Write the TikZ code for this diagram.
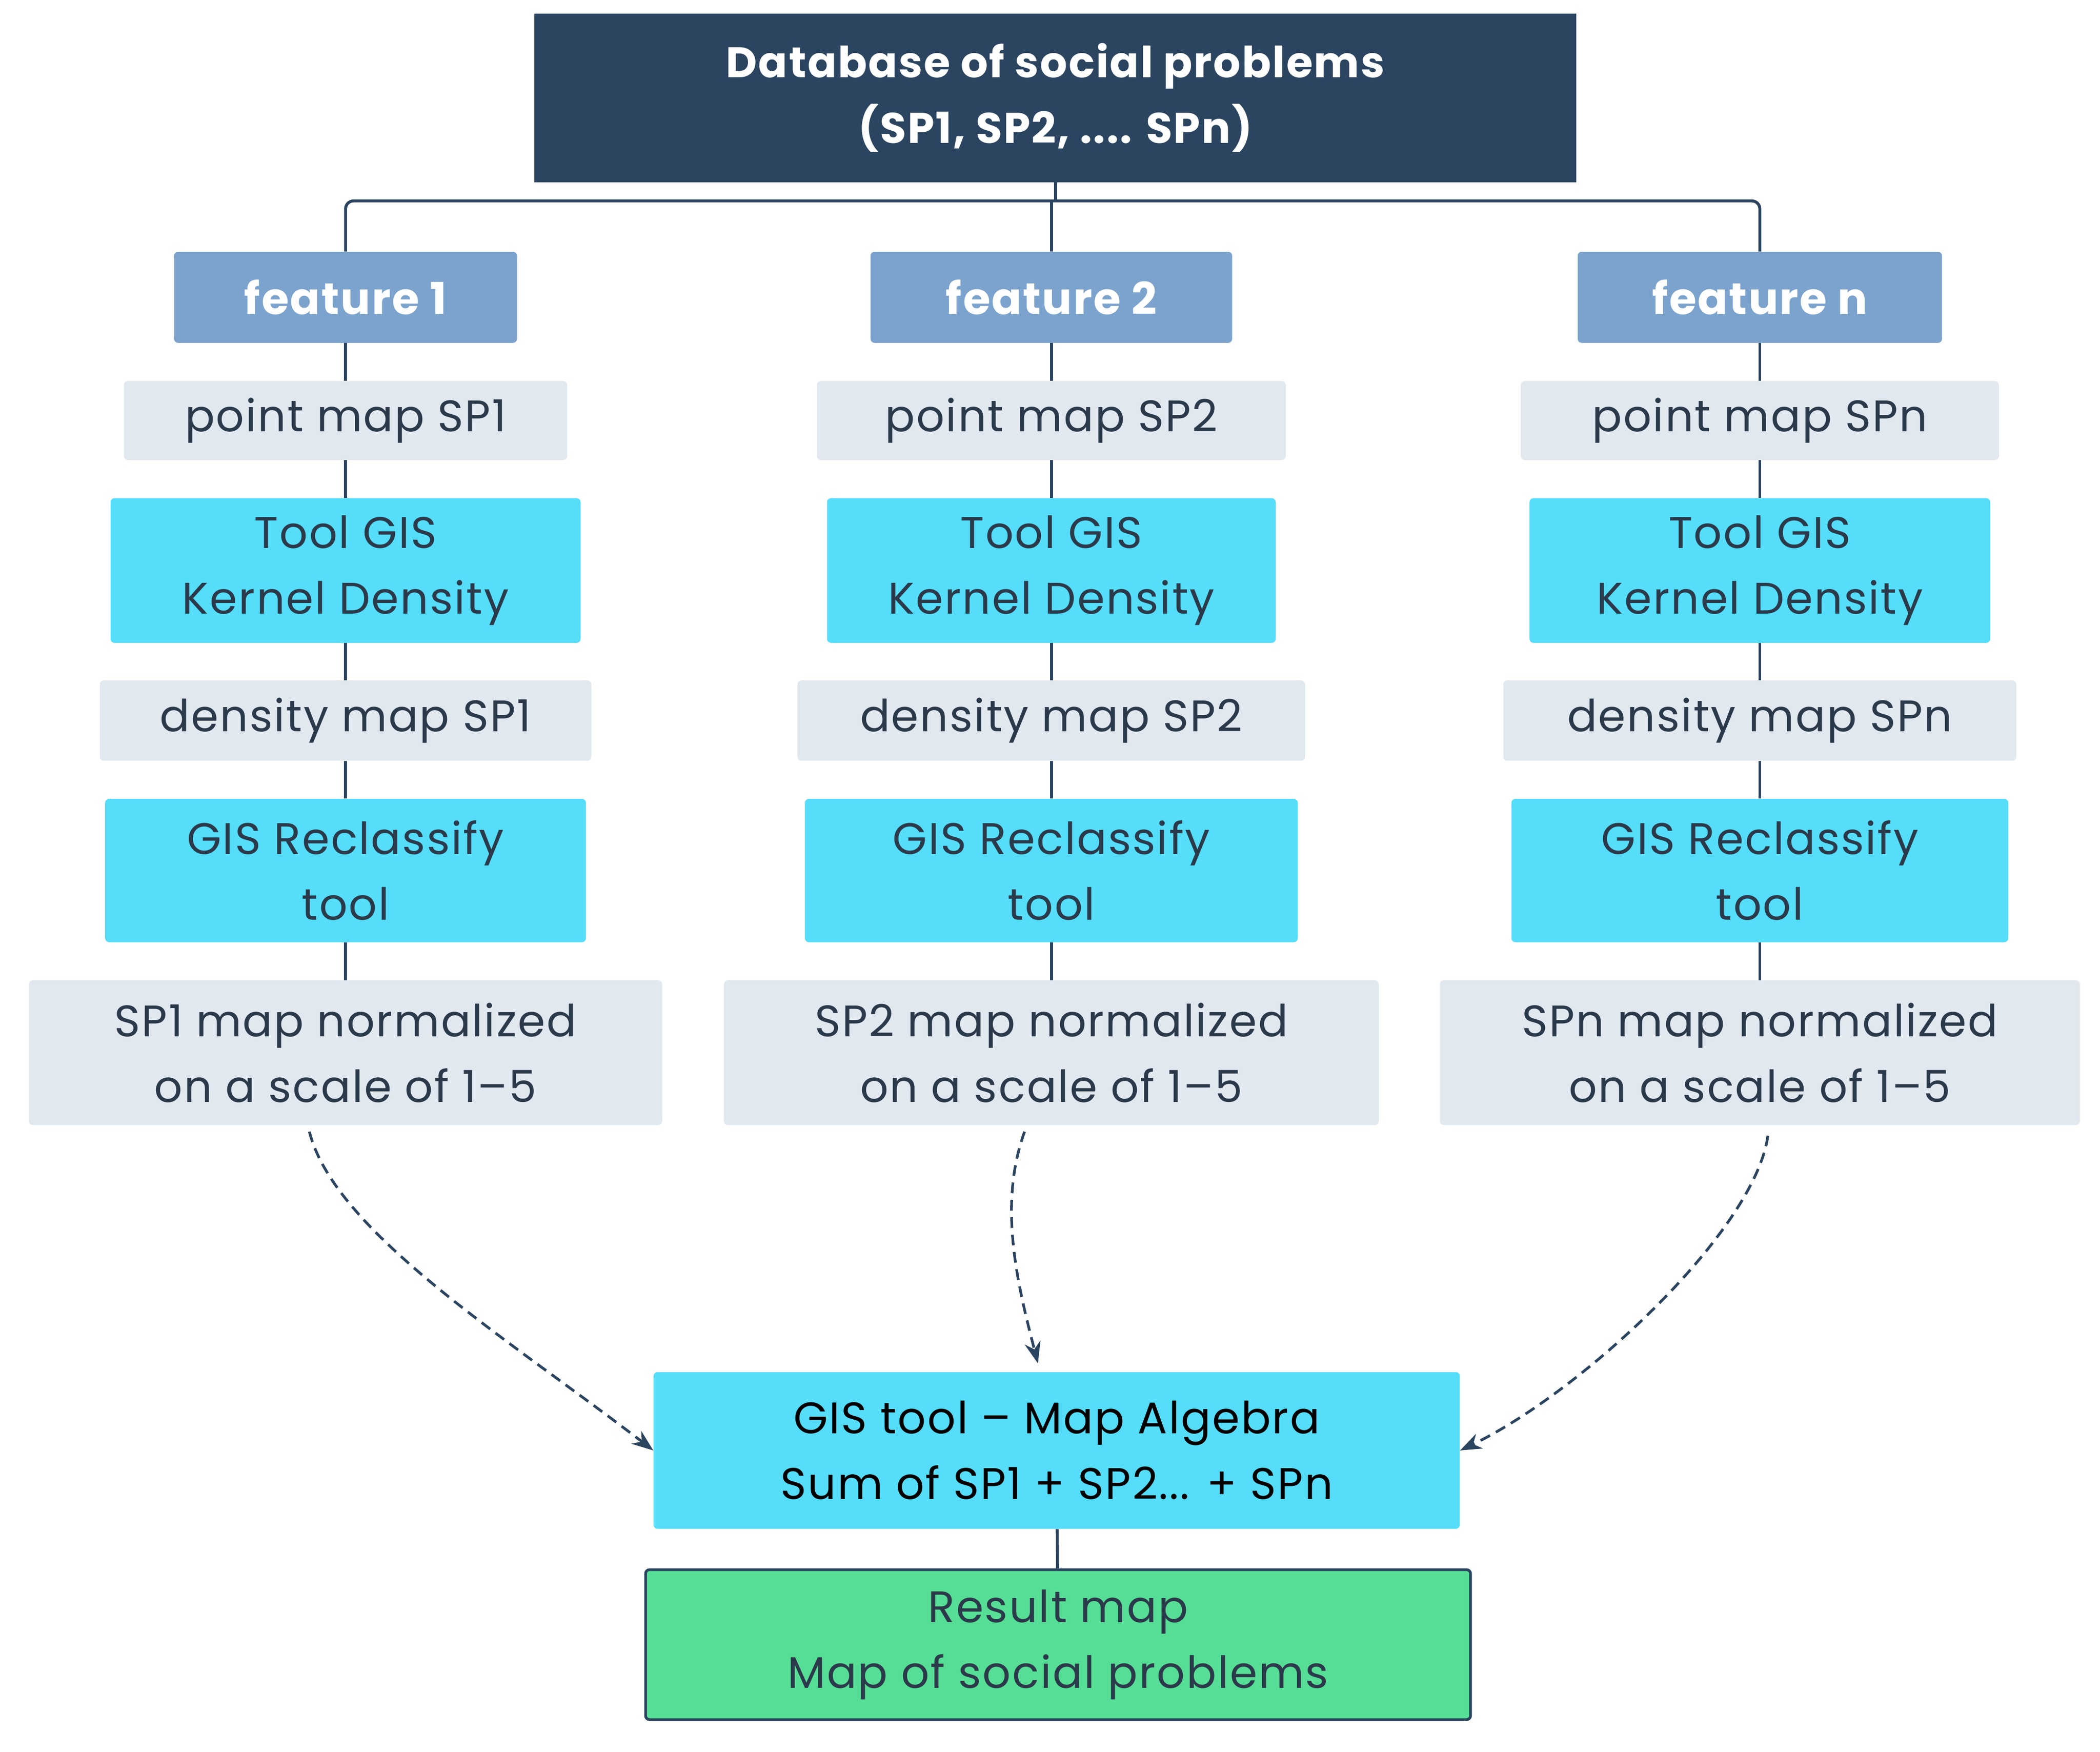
\documentclass[tikz,border=0pt]{standalone}
\usepackage{fontspec}
\setmainfont{Poppins}[LetterSpace=3]
\usetikzlibrary{arrows.meta}
\definecolor{navy}{HTML}{2B4460}
\definecolor{feat}{HTML}{7BA3CD}
\definecolor{lgray}{HTML}{E1E8F0}
\definecolor{cyanb}{HTML}{55DDFA}
\definecolor{greenb}{HTML}{57DE96}
\definecolor{txt}{HTML}{2B3A4A}
\begin{document}
\begin{tikzpicture}[x=1pt,y=-1pt,
  box/.style={rectangle,inner sep=0pt,align=center,text=txt,font=\fontsize{33}{49}\selectfont},
  featbox/.style={box,fill=feat,rounded corners=3pt,text=white,font=\fontsize{33}{49}\selectfont\bfseries},
  graybox/.style={box,fill=lgray,rounded corners=3pt},
  toolbox/.style={box,fill=cyanb,rounded corners=3pt},
  link/.style={navy,line width=2.2pt},
  dasharrow/.style={navy,line width=2pt,dash pattern=on 8pt off 5pt,-{Stealth[length=16pt,width=12pt]}}]
\useasboundingbox (0,0) rectangle (1568,1308);
\node[box,fill=navy,text=white,font=\fontsize{32}{49}\selectfont\bfseries,minimum width=778,minimum height=126] (db) at (788,73) {Database of social problems\\(SP1, SP2, .... SPn)};
\foreach \n/\c/\fw/\pw/\tw/\dw/\rw/\nw/\lab/\sp in
 {1/258/256/331/351/367/359/473/feature 1/SP1,
  2/785/270/350/335/379/368/489/feature 2/SP2,
  3/1314/272/357/344/383/371/478/feature n/SPn}{
  \node[featbox,minimum width=\fw,minimum height=68] (f\n) at (\c,222) {\lab};
  \node[graybox,minimum width=\pw,minimum height=59] (p\n) at (\c,314) {point map \sp};
  \node[toolbox,minimum width=\tw,minimum height=108] (k\n) at (\c,426) {Tool GIS\\Kernel Density};
  \node[graybox,minimum width=\dw,minimum height=60] (d\n) at (\c,538) {density map \sp};
  \node[toolbox,minimum width=\rw,minimum height=107] (r\n) at (\c,650) {GIS Reclassify\\tool};
  \node[graybox,minimum width=\nw,minimum height=108] (n\n) at (\c,786) {\sp{} map normalized\\on a scale of 1–5};
  \draw[link] (f\n) -- (p\n) (p\n) -- (k\n) (k\n) -- (d\n) (d\n) -- (r\n) (r\n) -- (n\n);
}
\coordinate (jc) at (788,150);
\draw[link,rounded corners=6pt] (f1.north) -- (258,150) -- (1314,150) -- (f3.north);
\draw[link] (db.south) -- (jc);
\draw[link] (785,150) -- (f2.north);
\node[toolbox,text=black,minimum width=602,minimum height=117] (sum) at (789,1083) {GIS tool – Map Algebra\\Sum of SP1 + SP2... + SPn};
\node[box,fill=greenb,draw=navy,line width=2pt,rounded corners=3pt,minimum width=616,minimum height=112] (res) at (790,1228) {Result map\\Map of social problems};
\draw[link] (sum) -- (res);
\draw[dasharrow] (231,845) .. controls (250,920) and (380,1000) .. (sum.west);
\draw[dasharrow] (765,845) .. controls (745,900) and (760,960) .. (775,1018);
\draw[dasharrow] (1320,848) .. controls (1310,920) and (1180,1040) .. (sum.east);
\end{tikzpicture}
\end{document}
